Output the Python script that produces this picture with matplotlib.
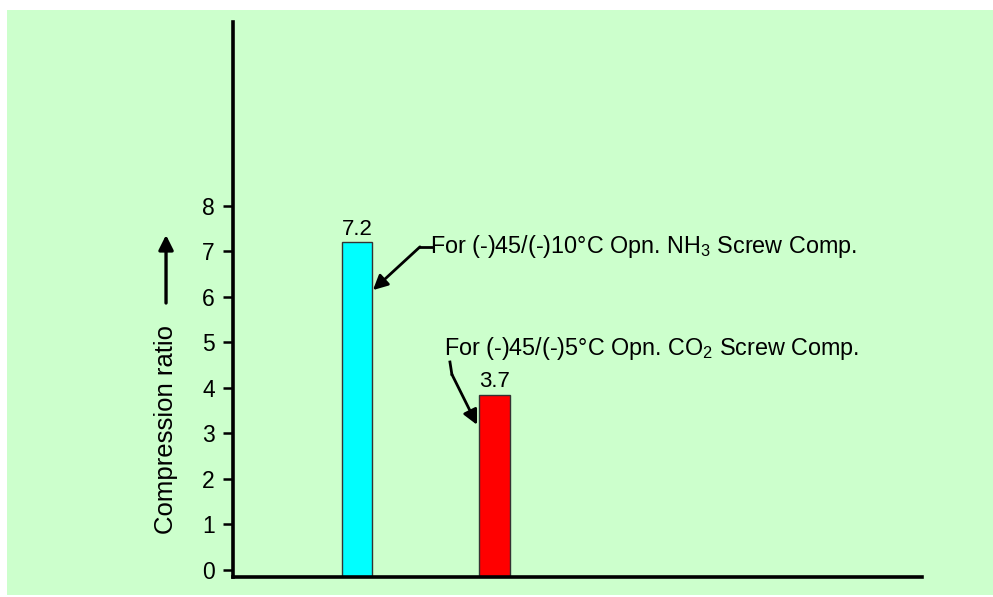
import matplotlib.pyplot as plt
from matplotlib.patches import Rectangle

plt.rcParams['font.family'] = ['Liberation Sans', 'DejaVu Sans']
plt.rcParams['mathtext.fontset'] = 'custom'
plt.rcParams['mathtext.rm'] = 'Liberation Sans'
plt.rcParams['mathtext.it'] = 'Liberation Sans:italic'

# data
positions = [0, 1]
heights = [7.2, 3.85]
value_labels = ['7.2', '3.7']
bar_colors = ['#00FFFF', '#FF0000']
y_ticks = [0, 1, 2, 3, 4, 5, 6, 7, 8]

green = '#CCFFCC'
y_min, y_max = -0.154, 12.04

fig = plt.figure(figsize=(9.93, 5.97), dpi=100)
fig.patches.append(Rectangle((0.007, 0.0034), 0.993, 0.98, transform=fig.transFigure,
                             facecolor=green, edgecolor='none', zorder=-5))

ax = fig.add_axes([0.2346, 0.0335, 0.6939, 0.9296])
ax.set_facecolor('none')

ax.bar(positions, [h - y_min for h in heights], bottom=y_min, width=0.225,
       color=bar_colors, edgecolor='#333333', linewidth=1.0, zorder=2)
for x, h, lab in zip(positions, heights, value_labels):
    ax.annotate(lab, (x, h), xytext=(0, 2), textcoords='offset points',
                ha='center', va='bottom', fontsize=16)

ax.set_xlim(-0.902, 4.109)
ax.set_ylim(y_min, y_max)
ax.set_yticks(y_ticks)
ax.set_xticks([])
ax.tick_params(axis='y', length=7, width=1.8, pad=6, labelsize=16.5)
for side in ['top', 'right']:
    ax.spines[side].set_visible(False)
for side in ['left', 'bottom']:
    ax.spines[side].set_linewidth(2.6)

# annotations
ax.text(0.531, 7.10, 'For (-)45/(-)10°C Opn. NH$_3$ Screw Comp.',
        ha='left', va='center', fontsize=16.8)
ax.plot([0.545, 0.458], [7.10, 7.10], color='black', lw=2.0)
ax.annotate('', xy=(0.116, 6.15), xytext=(0.458, 7.10),
            arrowprops=dict(arrowstyle='-|>', color='black', lw=2.0,
                            mutation_scale=22, shrinkA=0, shrinkB=0))

ax.text(0.633, 4.86, 'For (-)45/(-)5°C Opn. CO$_2$ Screw Comp.',
        ha='left', va='center', fontsize=16.8)
ax.plot([0.676, 0.69], [4.57, 4.3], color='black', lw=2.0)
ax.annotate('', xy=(0.873, 3.19), xytext=(0.69, 4.3),
            arrowprops=dict(arrowstyle='-|>', color='black', lw=2.0,
                            mutation_scale=22, shrinkA=0, shrinkB=0))

# y label with arrow
fig.text(0.1672, 0.2814, 'Compression ratio', rotation=90,
         ha='center', va='center', fontsize=18.5)
ax.annotate('', xy=(0.1672, 1 - 235 / 597), xytext=(0.1672, 1 - 303 / 597),
            xycoords='figure fraction', textcoords='figure fraction',
            arrowprops=dict(arrowstyle='-|>', color='black', lw=2.4,
                            mutation_scale=22, shrinkA=0, shrinkB=0))

fig.savefig('out.png', dpi=100, facecolor='white')
